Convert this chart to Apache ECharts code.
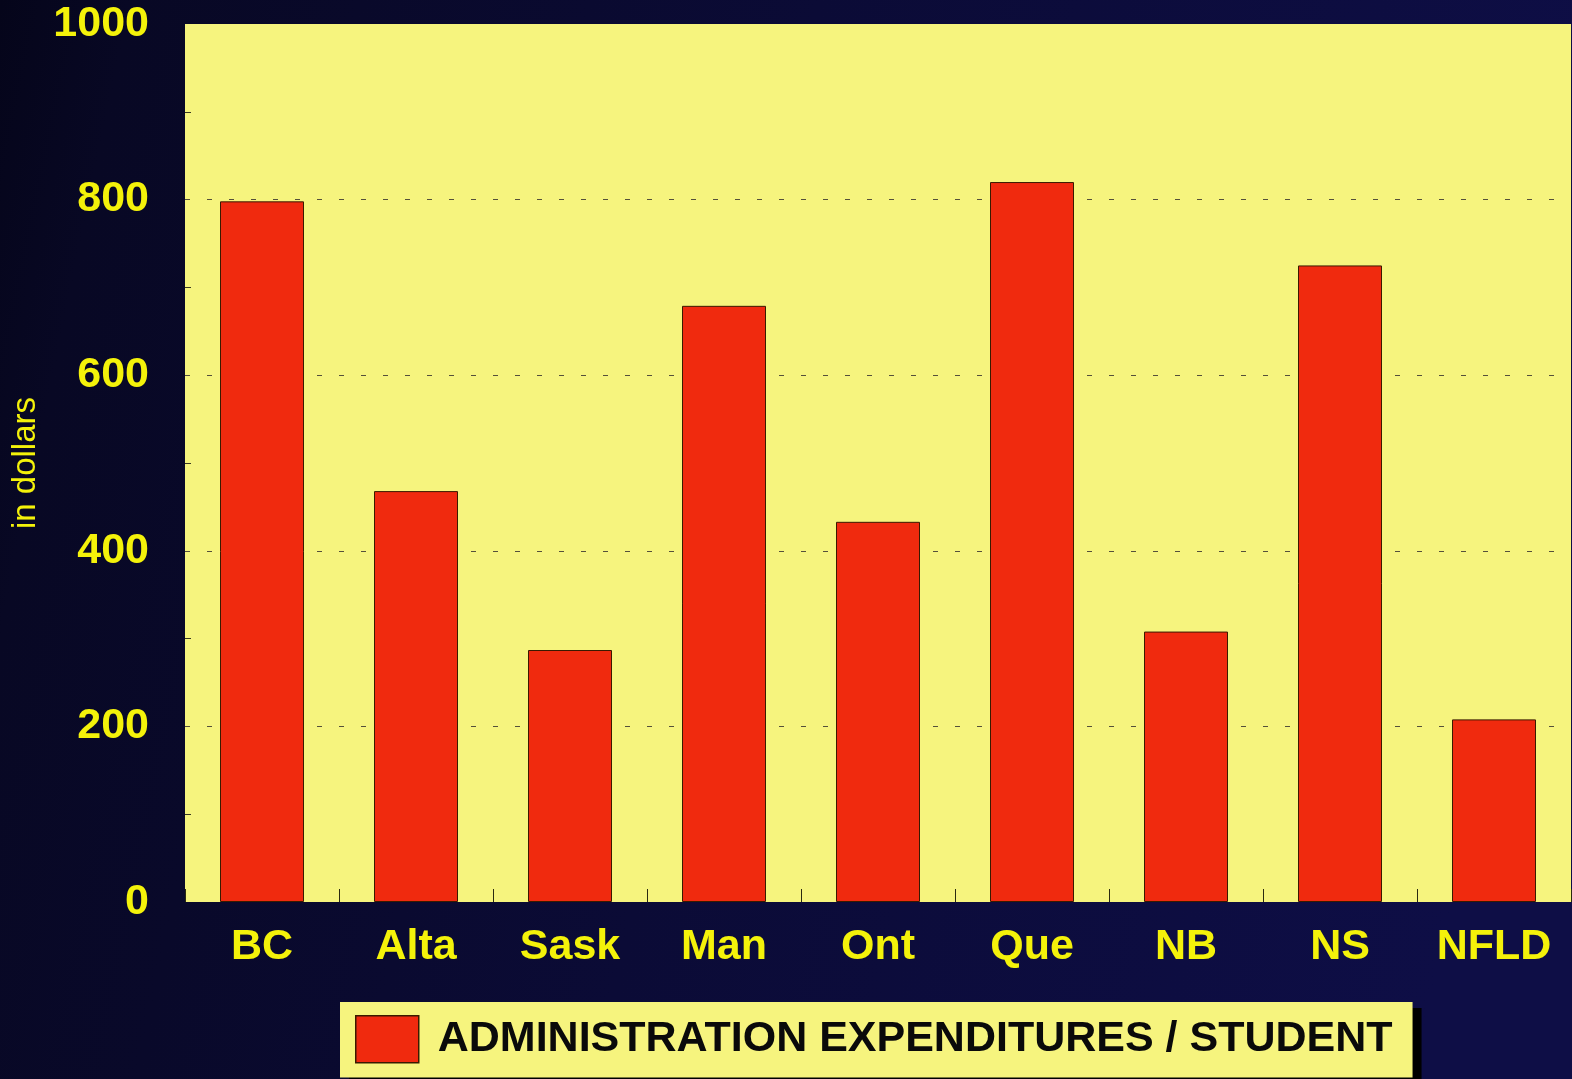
<!DOCTYPE html>
<html>
<head>
<meta charset="utf-8">
<script src="https://cdn.jsdelivr.net/npm/echarts@6/dist/echarts.min.js"></script>
<style>html,body{margin:0;padding:0;background:#0a0a2c;}#c{width:1572px;height:1079px;}</style>
</head>
<body>
<div id="c"></div>
<script>
var categories = ['BC', 'Alta', 'Sask', 'Man', 'Ont', 'Que', 'NB', 'NS', 'NFLD'];
var adminPerStudent = [798, 468, 287, 679, 433, 820, 308, 725, 208];
var seriesName = 'ADMINISTRATION EXPENDITURES / STUDENT';
var yAxisName = 'in dollars';

var chart = echarts.init(document.getElementById('c'), null, {renderer: 'canvas'});
chart.setOption({
  backgroundColor: {
    type: 'linear', x: 0, y: 0, x2: 1, y2: 0.3,
    colorStops: [
      {offset: 0, color: '#05051a'},
      {offset: 0.08, color: '#080824'},
      {offset: 0.5, color: '#0b0b36'},
      {offset: 1, color: '#0e0e46'}
    ]
  },
  animation: false,
  grid: {
    left: 185, right: 1, top: 24, bottom: 177,
    containLabel: false, outerBoundsMode: 'none',
    show: true, backgroundColor: '#f6f47e', borderWidth: 0
  },
  legend: {
    left: 340, top: 1002,
    padding: [13, 20, 14, 15],
    itemWidth: 63, itemHeight: 47,
    icon: 'rect',
    backgroundColor: '#f6f47e',
    shadowColor: '#000000', shadowBlur: 0, shadowOffsetX: 9, shadowOffsetY: 6,
    selectedMode: false,
    itemStyle: {borderColor: '#3a1a00', borderWidth: 1.5},
    textStyle: {
      color: '#0a0a0a', fontSize: 43, fontWeight: 'bold',
      fontFamily: '"Liberation Sans", Arial, sans-serif',
      lineHeight: 47, padding: [0, 0, 0, 14]
    },
    data: [seriesName]
  },
  xAxis: {
    type: 'category',
    data: categories,
    axisLine: {show: false},
    axisTick: {show: true, inside: true, length: 13, lineStyle: {color: '#2a2a10', width: 1}},
    axisLabel: {
      color: '#f4f20a', fontSize: 43, fontWeight: 'bold',
      fontFamily: '"Liberation Sans", Arial, sans-serif', margin: 24
    },
    splitLine: {show: false}
  },
  yAxis: {
    type: 'value',
    min: 0, max: 1000, interval: 200,
    name: yAxisName,
    nameLocation: 'middle',
    nameGap: 141,
    nameRotate: 90,
    nameTextStyle: {color: '#f4f20a', fontSize: 33, fontFamily: '"Liberation Sans", Arial, sans-serif'},
    axisLine: {show: false},
    axisTick: {show: false, inside: true},
    minorTick: {show: true, splitNumber: 2, length: 6, lineStyle: {color: '#3a3a20', width: 1}},
    axisLabel: {
      color: '#f4f20a', fontSize: 43, fontWeight: 'bold',
      fontFamily: '"Liberation Sans", Arial, sans-serif', margin: 36,
      formatter: function (v) { return String(v); }
    },
    splitLine: {show: true, showMinLine: false, showMaxLine: false,
      lineStyle: {color: '#55503a', width: 1, type: [5, 17]}}
  },
  series: [{
    name: seriesName,
    type: 'bar',
    data: adminPerStudent,
    barWidth: 84,
    itemStyle: {color: '#f02a0e', borderColor: '#3a1a00', borderWidth: 1}
  }]
});
</script>
</body>
</html>
